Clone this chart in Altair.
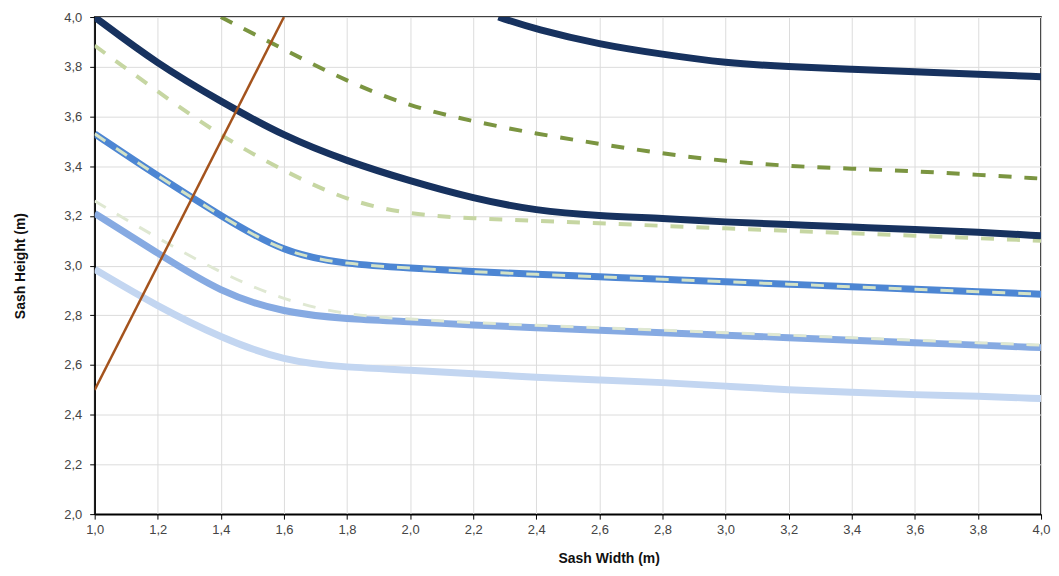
import altair as alt
import pandas as pd

# ---- data ----
navy_top_x = [2.28, 2.4, 2.6, 2.8, 3.0, 3.2, 3.4, 3.6, 3.8, 4.0]
navy_top_y = [4.00, 3.95, 3.89, 3.85, 3.815, 3.80, 3.79, 3.78, 3.77, 3.76]

olive_x = [1.40, 1.6, 1.8, 2.0, 2.2, 2.4, 2.6, 2.8, 3.0, 3.2, 3.4, 3.6, 3.8, 4.0]
olive_y = [4.00, 3.87, 3.74, 3.64, 3.58, 3.53, 3.49, 3.45, 3.42, 3.40, 3.39, 3.38, 3.365, 3.35]

navy_mid_x = [1.0, 1.2, 1.4, 1.6, 1.8, 2.0, 2.2, 2.4, 2.6, 2.8, 3.0, 3.2, 3.4, 3.6, 3.8, 4.0]
navy_mid_y = [4.00, 3.81, 3.66, 3.52, 3.42, 3.34, 3.27, 3.22, 3.20, 3.19, 3.175, 3.165, 3.155, 3.145, 3.135, 3.12]

pale_up_x = [1.0, 1.2, 1.4, 1.6, 1.8, 2.0, 2.2, 2.4, 2.6, 2.8, 3.0, 3.2, 3.4, 3.6, 3.8, 4.0]
pale_up_y = [3.885, 3.70, 3.52, 3.38, 3.26, 3.205, 3.19, 3.18, 3.17, 3.16, 3.15, 3.14, 3.13, 3.12, 3.11, 3.10]

blue_x = [1.0, 1.2, 1.4, 1.6, 1.8, 2.0, 2.2, 2.4, 2.6, 2.8, 3.0, 3.2, 3.4, 3.6, 3.8, 4.0]
blue_y = [3.53, 3.36, 3.20, 3.05, 3.005, 2.99, 2.975, 2.965, 2.955, 2.945, 2.935, 2.925, 2.915, 2.905, 2.895, 2.885]

pale_mid_x = [1.0, 1.2, 1.4, 1.6, 1.8, 2.0, 2.2, 2.4, 2.6, 2.8, 3.0, 3.2, 3.4, 3.6, 3.8, 4.0]
pale_mid_y = [3.53, 3.36, 3.20, 3.05, 3.005, 2.99, 2.975, 2.965, 2.955, 2.945, 2.935, 2.925, 2.915, 2.905, 2.895, 2.885]

lblue_x = [1.0, 1.2, 1.4, 1.6, 1.8, 2.0, 2.2, 2.4, 2.6, 2.8, 3.0, 3.2, 3.4, 3.6, 3.8, 4.0]
lblue_y = [3.21, 3.05, 2.89, 2.81, 2.785, 2.775, 2.76, 2.75, 2.74, 2.73, 2.72, 2.71, 2.70, 2.69, 2.68, 2.67]

pale_low_x = [1.0, 1.2, 1.4, 1.6, 1.8, 2.0, 2.2, 2.4, 2.6, 2.8, 3.0, 3.2, 3.4, 3.6, 3.8, 4.0]
pale_low_y = [3.26, 3.11, 2.97, 2.86, 2.80, 2.785, 2.77, 2.76, 2.75, 2.74, 2.73, 2.72, 2.71, 2.70, 2.69, 2.68]

palest_x = [1.0, 1.2, 1.4, 1.6, 1.8, 2.0, 2.2, 2.4, 2.6, 2.8, 3.0, 3.2, 3.4, 3.6, 3.8, 4.0]
palest_y = [2.985, 2.835, 2.71, 2.615, 2.59, 2.58, 2.565, 2.55, 2.54, 2.53, 2.515, 2.50, 2.49, 2.48, 2.475, 2.465]

brown_x = [1.0, 1.6]
brown_y = [2.5, 4.0]

x_ticks = [1.0, 1.2, 1.4, 1.6, 1.8, 2.0, 2.2, 2.4, 2.6, 2.8, 3.0, 3.2, 3.4, 3.6, 3.8, 4.0]
y_ticks = [2.0, 2.2, 2.4, 2.6, 2.8, 3.0, 3.2, 3.4, 3.6, 3.8, 4.0]

# ---- styles (drawing order: first is bottom) ----
series = [
    (palest_x, palest_y, "#c3d6f1", 7, None),
    (lblue_x, lblue_y, "#86aae2", 7, None),
    (pale_low_x, pale_low_y, "#dfe8d2", 3, [13, 13]),
    (blue_x, blue_y, "#4d86d3", 7, None),
    (pale_mid_x, pale_mid_y, "#d3e2c6", 3, [13, 13]),
    (pale_up_x, pale_up_y, "#c6d6a2", 4, [13, 13]),
    (navy_mid_x, navy_mid_y, "#17325f", 7, None),
    (navy_top_x, navy_top_y, "#17325f", 7, None),
    (olive_x, olive_y, "#7b9541", 4, [13, 13]),
    (brown_x, brown_y, "#a4531d", 2.5, None),
]

label_expr = "replace(format(datum.value, '.1f'), '.', ',')"
xscale = alt.Scale(domain=[1.0, 4.0], nice=False, zero=False)
yscale = alt.Scale(domain=[2.0, 4.0], nice=False, zero=False)

common_axis = dict(labelExpr=label_expr, grid=True, gridColor="#dcdcdc",
                   domainColor="#000000", domainWidth=1.5, tickColor="#000000",
                   tickSize=5, labelFont="Liberation Sans", labelFontSize=13,
                   labelColor="#444444", labelFlush=False, titleFont="Liberation Sans",
                   titleFontSize=14, titleFontWeight="bold", titleColor="#111111")
xaxis = alt.Axis(values=x_ticks, title="Sash Width (m)", labelPadding=4,
                 titlePadding=16, titleX=516, **common_axis)
yaxis = alt.Axis(values=y_ticks, title="Sash Height (m)", labelPadding=8,
                 titlePadding=36, **common_axis)

xenc = alt.X("x:Q", scale=xscale, axis=xaxis)
yenc = alt.Y("y:Q", scale=yscale, axis=yaxis)

layers = []
for xs, ys, color, width, dash in series:
    df = pd.DataFrame({"x": xs, "y": ys})
    kw = dict(color=color, strokeWidth=width, interpolate="basis", clip=True,
              strokeCap="butt")
    if dash:
        kw["strokeDash"] = dash
    layers.append(alt.Chart(df).mark_line(**kw).encode(x=xenc, y=yenc))

chart = alt.layer(*layers).properties(
    width=950, height=499,
    autosize=alt.AutoSizeParams(type="none"),
    padding={"left": 87, "top": 8, "right": 10, "bottom": 56},
    background="white",
).configure_view(stroke="#000000", strokeWidth=1.5)

chart.save("out.html", embed_options={"renderer": "svg", "actions": False})
